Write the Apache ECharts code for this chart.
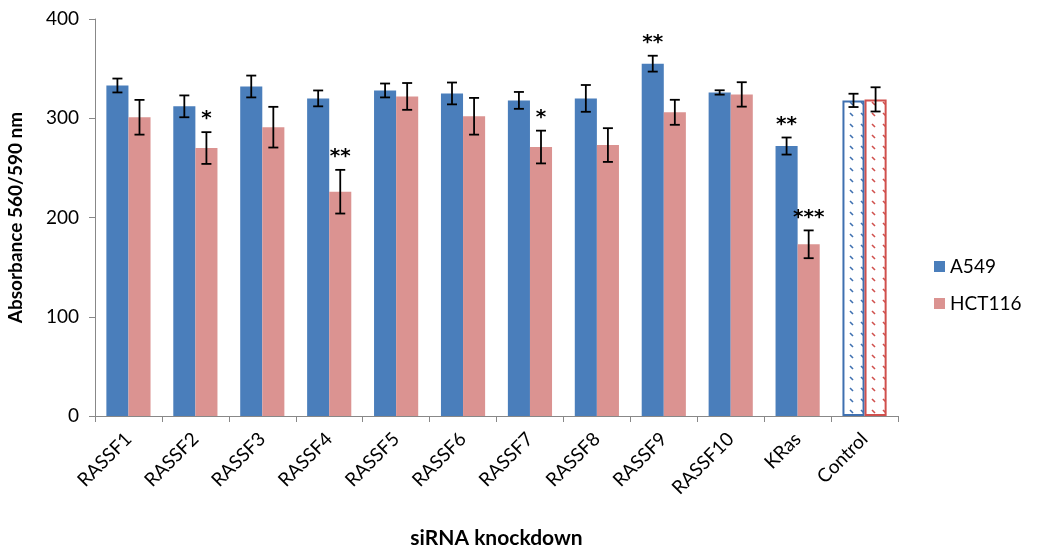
<!DOCTYPE html>
<html><head><meta charset="utf-8">
<script src="https://cdn.jsdelivr.net/npm/echarts@6/dist/echarts.min.js"></script>
<style>html,body{margin:0;padding:0;background:#fff}#c{width:1038px;height:546px}</style>
</head><body><div id="c"></div>
<script>
var categories = ['RASSF1','RASSF2','RASSF3','RASSF4','RASSF5','RASSF6','RASSF7','RASSF8','RASSF9','RASSF10','KRas','Control'];
var a549 = [333, 312, 332, 320, 328, 325, 318, 320, 355, 326, 272, 318];
var a549Err = [7, 11, 11, 8, 7, 11, 8.5, 13.5, 8, 2.2, 8.6, 6.7];
var hct116 = [301, 270, 291, 226, 322, 302, 271, 273, 306, 324, 173, 319];
var hct116Err = [17.5, 16, 20.5, 22, 13.5, 18.5, 16.5, 17, 12.6, 12.3, 14, 12.2];
var a549Stars = ['', '', '', '', '', '', '', '', '**', '', '**', ''];
var hct116Stars = ['', '*', '', '**', '', '', '*', '', '', '', '***', ''];
var yTicks = [0, 100, 200, 300, 400];

var FONT = 'Lato, "Open Sans", sans-serif';
var BLUE = '#4a7ebb', PINK = '#db9391', BLUE_B = '#3f70b0', RED_B = '#d0504d';

function makePattern(col){
  var cv = document.createElement('canvas');
  cv.width = 11; cv.height = 11;
  var ctx = cv.getContext('2d');
  ctx.fillStyle = '#fff'; ctx.fillRect(0,0,11,11);
  ctx.strokeStyle = col; ctx.lineWidth = 1.6;
  ctx.beginPath(); ctx.moveTo(3,3); ctx.lineTo(6,6); ctx.stroke();
  return {image: cv, repeat: 'repeat'};
}

var last = categories.length - 1;
function barData(vals, col, bcol){
  return vals.map(function(v,i){
    if (i === last) return {value: v, itemStyle: {color: makePattern(bcol), borderColor: bcol, borderWidth: 2}};
    return v;
  });
}
function errData(vals, errs, stars){
  return vals.map(function(v,i){ return [i, v - errs[i], v + errs[i], stars[i]]; });
}
function errRender(sign){
  return function(params, api){
    var i = api.value(0);
    var lo = api.coord([i, api.value(1)]);
    var hi = api.coord([i, api.value(2)]);
    var cw = api.size([1, 0])[0];
    var bw = cw * 0.66 / 2;
    var x = lo[0] + sign * bw / 2;
    var cap = 5;
    var st = {stroke: '#000', lineWidth: 1.8};
    var children = [
      {type:'line', shape:{x1:x, y1:hi[1], x2:x, y2:lo[1]}, style: st},
      {type:'line', shape:{x1:x-cap, y1:hi[1], x2:x+cap, y2:hi[1]}, style: st},
      {type:'line', shape:{x1:x-cap, y1:lo[1], x2:x+cap, y2:lo[1]}, style: st}
    ];
    var s = api.value(3);
    if (s) {
      children.push({type:'text', style:{text: s, x: x, y: hi[1] - 13, align:'center', verticalAlign:'middle', font:'bold 20px "DejaVu Sans", sans-serif', fill:'#000'}});
    }
    return {type:'group', children: children};
  };
}

var chart = echarts.init(document.getElementById('c'));
chart.setOption({
  animation: false,
  grid: {left: 95, right: 140, top: 19, bottom: 130, outerBoundsMode: 'none', containLabel: false},
  legend: {
    orient: 'vertical', left: 929, top: 252, itemGap: 18, itemWidth: 11, itemHeight: 11,
    icon: 'rect',
    textStyle: {fontFamily: FONT, fontSize: 19, color: '#000'},
    data: [{name:'A549', itemStyle:{color: BLUE}}, {name:'HCT116', itemStyle:{color: PINK}}]
  },
  xAxis: {
    type: 'category', data: categories,
    name: 'siRNA knockdown', nameLocation: 'middle', nameGap: 112,
    nameTextStyle: {fontFamily: FONT, fontSize: 21, fontWeight: 'bold', color: '#000'},
    axisLine: {lineStyle: {color: '#888', width: 1}},
    axisTick: {show: true, alignWithLabel: false, length: 6, lineStyle: {color: '#888'}},
    axisLabel: {rotate: 45, fontFamily: FONT, fontSize: 19, color: '#000', margin: 20}
  },
  yAxis: {
    type: 'value', min: yTicks[0], max: yTicks[yTicks.length-1], interval: 100,
    name: 'Absorbance 560/590 nm', nameLocation: 'middle', nameGap: 70, nameRotate: 90,
    nameTextStyle: {fontFamily: FONT, fontSize: 19, fontWeight: 'bold', color: '#000'},
    axisLine: {show: true, lineStyle: {color: '#888', width: 1}},
    axisTick: {show: true, length: 6, lineStyle: {color: '#888'}},
    splitLine: {show: false},
    axisLabel: {fontFamily: FONT, fontSize: 19, color: '#000', margin: 16}
  },
  series: [
    {name: 'A549', type: 'bar', data: barData(a549, BLUE, BLUE_B), itemStyle: {color: BLUE}, barGap: '0%', barCategoryGap: '34%'},
    {name: 'HCT116', type: 'bar', data: barData(hct116, PINK, RED_B), itemStyle: {color: PINK}, barGap: '0%', barCategoryGap: '34%'},
    {type: 'custom', renderItem: errRender(-1), data: errData(a549, a549Err, a549Stars), z: 10, encode: {x: 0, y: [1, 2]}},
    {type: 'custom', renderItem: errRender(1), data: errData(hct116, hct116Err, hct116Stars), z: 10, encode: {x: 0, y: [1, 2]}}
  ]
});
</script></body></html>
